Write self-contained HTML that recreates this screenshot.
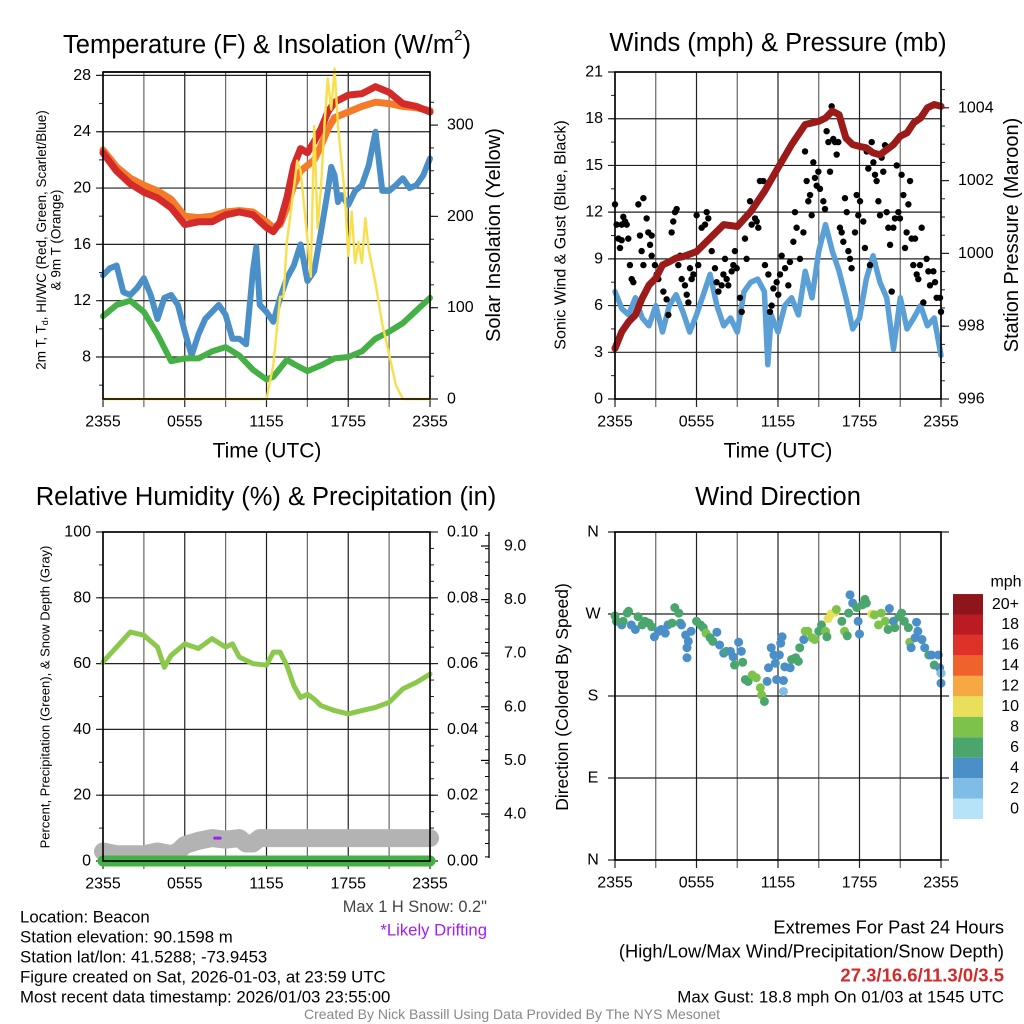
<!DOCTYPE html>
<html><head><meta charset="utf-8"><style>
html,body{margin:0;padding:0;background:#fff;}
svg{display:block;font-family:"Liberation Sans",Arial,sans-serif;}
</style></head><body>
<svg id="chart" width="1024" height="1024" viewBox="0 0 1024 1024" xmlns="http://www.w3.org/2000/svg">
<rect x="0" y="0" width="1024" height="1024" fill="#fff"/>
<g id="layer"></g>
</svg>
<script>
// ---------- Panel 1: temperature & insolation ----------
const tTimes=[0,1,2,3,4,5,6,7,8,9,10,11,12,12.5,13,13.5,14,14.5,15,15.5,16,16.5,17,18,19,20,21,22,23,24];
const temp2m=[22.5,21.2,20.3,19.7,19.3,18.6,17.4,17.6,17.6,18.1,18.3,18.1,17.2,16.9,17.6,19.3,21.6,22.8,22.5,23.3,24.2,25.4,26.1,26.6,26.7,27.2,26.8,26.0,25.8,25.4];
const temp9m=[22.7,21.5,20.7,20.2,19.8,19.2,18.0,17.9,18.0,18.3,18.4,18.3,17.6,17.2,17.4,18.6,20.2,21.2,21.6,22.0,23.0,24.2,25.0,25.4,25.8,26.1,26.0,25.8,25.7,25.5];
const dewTimes=[0,1,2,3,4,5,6,7,8,9,10,11,12,12.5,13,13.5,14,15,16,17,18,19,20,21,22,23,24];
const dewPoint=[10.9,11.7,12.0,11.2,9.6,7.7,7.9,7.9,8.4,8.7,8.1,7.1,6.4,6.6,7.2,7.8,7.5,7.0,7.4,7.9,8.0,8.4,9.3,9.8,10.4,11.3,12.2];
const wcTimes=[0,0.5,1,1.5,2,2.5,3,3.5,4,4.5,5,5.5,6,6.5,7,7.5,8,8.5,9,9.5,10,10.5,11,11.25,11.5,12,12.5,13,13.5,14,14.5,15,15.5,16,16.5,16.75,17,17.25,17.5,18,18.5,19,19.5,20,20.5,21,21.5,22,22.5,23,23.5,24];
const windChill=[13.8,14.3,14.5,12.6,12.4,12.9,13.6,12.4,10.7,12.2,12.4,11.7,9.8,8.1,9.6,10.7,11.2,11.7,11.0,9.3,9.3,8.9,14.1,15.8,11.7,11.2,10.5,12.2,13.6,14.5,16.0,13.4,14.1,16.9,19.8,21.5,20.9,19.0,19.5,18.8,19.8,20.2,21.6,24.0,19.8,19.8,20.2,20.7,20.0,20.2,20.9,22.1];
const solTimes=[0,12,12.5,13,13.25,13.5,14,14.25,14.5,14.75,15,15.25,15.5,15.75,16,16.25,16.5,16.75,17,17.25,17.5,17.75,18,18.25,18.5,18.75,19,19.25,19.5,20,20.5,21,21.5,22,24];
const solar=[0,0,37,112,112,172,231,261,250,213,175,134,299,187,231,299,351,317,362,299,261,224,157,205,149,172,149,198,164,127,82,49,15,0,0];
const p1LeftTicks=[8,12,16,20,24,28];
const p1RightTicks=[0,100,200,300];
// ---------- Panel 2: winds & pressure ----------
const presTimes=[0,0.5,1,1.5,2,2.5,3,3.5,4,4.5,5,6,7,8,9,10,11,12,13,14,15,15.5,16,16.5,17,17.5,18,18.5,19,19.5,20,20.5,21,21.5,22,22.5,23,23.5,24];
const pressure=[997.39,997.85,998.12,998.31,998.77,999.13,999.32,999.68,999.77,999.87,999.91,1000.05,1000.42,1000.79,1000.74,1001.15,1001.70,1002.35,1002.99,1003.54,1003.63,1003.72,1003.91,1003.81,1003.17,1002.99,1002.94,1002.90,1002.76,1002.71,1002.85,1002.99,1003.22,1003.31,1003.59,1003.72,1004.00,1004.09,1004.04];
const windTimes=[0,0.5,1,1.5,2,2.5,3,3.5,4,4.5,5,5.5,6,6.5,7,7.5,8,8.5,9,9.5,10,10.5,11,11.25,11.5,12,12.5,13,13.5,14,14.5,15,15.5,16,16.5,17,17.5,18,18.5,19,19.5,20,20.5,21,21.5,22,22.5,23,23.5,24];
const windSpeed=[6.9,5.8,5.4,6.5,5.2,4.7,6.0,4.3,6.0,6.7,5.6,4.3,5.4,6.7,8.0,6.0,4.7,5.2,4.3,6.9,7.5,7.7,6.9,2.2,5.4,4.3,6.0,6.5,5.4,8.2,6.5,9.5,11.2,9.5,8.2,6.5,4.5,5.2,7.7,9.2,7.5,6.5,3.2,6.5,4.5,5.2,6.0,4.7,5.2,2.8];
const gustTimes=[0,0.12,0.25,0.49,0.61,0.74,0.86,0.37,0.49,0.98,1.1,1.23,1.35,1.72,1.84,1.96,2.09,2.09,2.33,2.45,2.58,2.7,2.7,2.94,3.07,3.19,3.56,3.8,3.93,4.17,4.29,4.42,4.54,4.66,4.79,4.91,5.15,5.28,5.4,5.52,5.64,5.77,6.01,6.13,6.38,6.63,6.75,6.87,6.99,7.12,7.36,7.48,7.61,7.85,7.98,8.1,8.22,8.34,8.59,8.71,8.83,8.96,9.2,9.33,9.57,9.69,9.94,10.06,10.31,10.43,10.55,10.67,10.92,11.04,11.29,11.41,11.53,11.66,11.9,12.02,12.15,12.27,12.52,12.76,12.88,13.13,13.25,13.37,13.62,13.87,13.99,14.11,14.23,14.36,14.48,14.6,14.72,14.85,14.97,15.09,15.34,15.46,15.58,15.71,15.83,15.95,16.07,16.2,16.32,16.44,16.56,16.69,16.81,16.93,17.06,17.18,17.3,17.42,17.67,17.79,17.91,18.04,18.28,18.4,18.53,18.65,18.77,18.9,19.02,19.14,19.26,19.39,19.51,19.63,19.75,19.88,20.0,20.12,20.25,20.37,20.49,20.61,20.74,20.86,20.98,21.1,21.23,21.35,21.47,21.6,21.72,21.84,21.96,22.09,22.21,22.33,22.45,22.58,22.7,22.94,23.07,23.19,23.44,23.56,23.68,23.93,24.0];
const gustSpeed=[12.5,11.2,10.3,11.2,11.7,11.4,11.2,9.7,10.2,10.3,8.6,7.7,7.5,12.5,10.5,9.5,12.9,8.6,11.6,10.7,9.9,9.2,10.5,8.6,8.0,7.7,6.9,6.4,5.4,10.7,11.4,12.0,12.2,8.6,9.2,7.7,7.3,6.7,6.2,8.4,7.7,8.0,11.8,8.6,11.0,11.2,12.0,11.6,10.3,9.5,8.4,7.5,6.9,7.3,8.0,9.0,7.7,7.3,8.2,8.6,9.5,8.4,6.5,5.6,10.3,9.0,12.7,11.2,11.6,11.4,11.0,14.0,14.0,8.6,8.0,5.6,6.0,7.1,7.5,6.7,8.0,9.2,8.4,7.3,8.8,10.1,12.0,11.0,9.0,10.7,15.9,14.0,12.7,13.1,11.8,15.2,14.2,13.7,14.6,13.5,12.7,12.2,17.2,16.5,14.6,18.8,16.7,16.5,15.7,16.5,11.0,10.7,10.1,12.9,12.0,9.5,9.0,8.4,10.7,13.1,11.8,12.7,11.4,9.7,15.9,14.8,8.6,16.5,15.2,14.4,14.0,12.7,11.8,15.5,14.6,16.3,12.0,11.0,9.9,6.9,11.0,11.6,15.0,12.0,11.6,14.4,13.1,9.7,10.7,12.5,14.0,10.3,8.6,10.3,8.0,7.7,8.6,11.0,6.2,9.0,8.2,7.3,8.2,7.5,6.5,6.5,5.6];
const p2LeftTicks=[0,3,6,9,12,15,18,21];
const p2RightTicks=[996,998,1000,1002,1004];
// ---------- Panel 3: RH, precip, snow ----------
const rhTimes=[0,1,2,3,4,4.5,5,6,7,8,9,9.5,10,11,12,12.5,13,13.5,14,14.5,15,15.5,16,17,18,19,20,21,22,23,24];
const relHum=[60.5,65.0,69.6,68.6,65.0,58.9,62.5,66.0,64.6,67.6,65.0,66.0,62.0,60.0,59.5,63.5,63.5,59.4,53.3,49.7,50.7,49.2,47.2,45.7,44.7,45.7,46.7,48.2,52.3,54.3,56.8];
const snowTimes=[0,1,2,3,4,5,5.5,6,7,8,9,10,10.5,11,11.5,12,24];
const snowDepth=[3.3,3.25,3.25,3.25,3.3,3.25,3.3,3.42,3.5,3.55,3.52,3.55,3.45,3.45,3.55,3.55,3.55];
const precipTimes=[0,24];
const precip=[0,0];
const driftTimes=[8.2,8.6];
const driftDepth=[3.55,3.55];
const p3LeftTicks=[0,20,40,60,80,100];
const p3RightTicks=[0,0.02,0.04,0.06,0.08,0.10];
const snowTicks=[4,5,6,7,8,9];
// ---------- Panel 4: wind direction ----------
const dirTimes=[0,0.1,0.5,0.9,1.0,0.6,1.2,1.5,1.7,2.0,2.2,2.5,2.7,2.9,3.2,3.4,3.7,3.9,4.2,4.4,4.7,4.8,4.9,5.2,5.4,5.3,5.3,5.6,6.0,6.3,6.5,6.7,7.0,7.2,7.5,7.7,8.0,8.2,8.5,8.7,8.8,9.1,9.3,9.4,9.6,9.8,10.1,10.4,10.7,10.8,11.0,11.2,11.3,11.5,11.7,11.8,11.9,12.1,12.2,12.3,12.4,12.4,12.5,12.9,13.0,13.3,13.5,13.6,13.9,14.0,14.2,14.5,14.7,15.0,15.2,15.5,15.6,15.7,15.9,16.2,16.3,16.7,16.9,17.1,17.2,17.3,17.5,17.8,17.9,18.0,18.2,18.4,18.5,18.9,19.1,19.4,19.6,19.9,20.1,20.2,20.5,20.6,20.9,21.1,21.3,21.6,21.7,21.8,22.1,22.2,22.3,22.6,22.8,23.1,23.3,23.5,23.8,23.9,24.0,24.0,24.0];
const dirDeg=[268,262,258,271,273,262,258,253,267,258,262,260,256,245,251,253,249,258,260,277,271,260,258,247,240,233,222,251,262,258,255,249,244,240,250,236,227,229,229,223,214,239,229,217,198,196,203,200,189,181,174,196,211,233,225,216,198,225,238,245,197,185,212,211,220,222,218,233,242,251,251,244,242,251,258,251,245,265,270,272,275,262,251,246,271,291,282,277,262,248,280,286,282,270,269,258,271,262,253,276,262,255,267,271,262,255,239,233,244,261,251,242,233,225,225,214,225,211,205,194,205];
const dirSpeed=[6,6,4,6,6,6,4,4,6,6,6,6,6,4,4,4,4,4,6,6,6,6,4,4,4,4,4,4,6,6,6,8,6,6,4,4,4,6,4,4,6,4,4,6,6,6,8,8,8,8,6,4,4,4,4,4,4,4,4,4,4,2,4,4,6,6,6,6,4,8,8,8,8,6,6,8,6,10,10,10,8,6,8,6,6,4,4,6,4,4,6,6,6,10,8,8,8,8,6,4,4,6,6,6,6,6,8,4,4,4,4,4,4,6,4,6,4,4,4,4,2];
const dirTicks=[0,90,180,270,360];
const dirTickLabels=["N","E","S","W","N"];
const cbLabels=["0","2","4","6","8","10","12","14","16","18","20+"];
const cbColors=["#b6e3f8","#7fbde6","#4a8fc7","#4aa66d","#7dc34b","#e8e05a","#f6a843","#f0622b","#dd3129","#bb1c23","#8e1519"];
const xTickLabels=["2355","0555","1155","1755","2355"];

// ---------- helpers ----------
const NS="http://www.w3.org/2000/svg";
const layer=document.getElementById('layer');
function mk(tag,attrs,parent){const e=document.createElementNS(NS,tag);for(const k in attrs)e.setAttribute(k,attrs[k]);(parent||layer).appendChild(e);return e;}
function txt(s,x,y,size,anchor,fill,extra){const e=mk('text',Object.assign({x:x,y:y,'font-size':size,'text-anchor':anchor||'middle',fill:fill||'#000','dominant-baseline':'central'},extra||{}));e.textContent=s;return e;}
function lin(a,b,c,d,stroke,w){return mk('line',{x1:a,y1:b,x2:c,y2:d,stroke:stroke,'stroke-width':w});}
function poly(ts,vs,xf,yf,color,w){let p=ts.map((t,i)=>xf(t).toFixed(1)+','+yf(vs[i]).toFixed(1)).join(' ');return mk('polyline',{points:p,fill:'none',stroke:color,'stroke-width':w,'stroke-linejoin':'round','stroke-linecap':'round'});}

function timeGrid(P){
  for(let h=0;h<=24;h+=3){const x=P.x0+h/24*(P.x1-P.x0);
    const g=lin(x,P.y0,x,P.y1+8,h%6===0?'#222':'#666',1.2);
    
    }
  xTickLabels.forEach((s,i)=>{const t=txt(s,P.x0+i*6/24*(P.x1-P.x0),P.y1+23,16);
    
    });
}
function hGrid(P,ticks,yf,labels,side,labx,minor){
  ticks.forEach((v,i)=>{const y=yf(v);
    if(side==='left'){const g=lin(P.x0-7,y,P.x1,y,'#222',1.2);
      
      }
    else{lin(P.x1,y,P.x1+8,y,'#222',1.2);}
    const t=txt(labels[i],labx,y,16,side==='left'?'end':'start');
    
    });
  if(minor){minor.forEach(v=>{const y=yf(v);if(side==='left')lin(P.x0-4,y,P.x0,y,'#222',1);else lin(P.x1,y,P.x1+4,y,'#222',1);});}
}
function frame(P){const r=mk('rect',{x:P.x0,y:P.y0,width:P.x1-P.x0,height:P.y1-P.y0,fill:'none',stroke:'#000','stroke-width':1.6});
  
  }
function range(a,b,s){const o=[];for(let v=a;v<=b+1e-9;v+=s)o.push(+v.toFixed(3));return o;}

// ---------- Panel 1 ----------
const P1={x0:103,x1:430,y0:72,y1:399};
const x1f=t=>P1.x0+t/24*(P1.x1-P1.x0);
const yT=v=>357-(v-8)*14.08;
const yS=w=>P1.y1-w*0.913;
timeGrid(P1);
hGrid(P1,p1LeftTicks,yT,p1LeftTicks.map(String),'left',P1.x0-12,range(6,28,2));
hGrid(P1,p1RightTicks,yS,p1RightTicks.map(String),'right',P1.x1+17,range(0,325,25));
lin(P1.x0,P1.y0,P1.x1,P1.y0,'#000',1.4);
let e;
e=poly(tTimes,temp9m,x1f,yT,'#f47b2a',7);


e=poly(tTimes,temp2m,x1f,yT,'#d42a2a',7);


e=poly(wcTimes,windChill,x1f,yT,'#4a8fc7',6);


e=poly(dewTimes,dewPoint,x1f,yT,'#45b045',6);


e=poly(solTimes,solar,x1f,yS,'#f9df4b',2.4);


frame(P1);

// ---------- Panel 2 ----------
const P2={x0:615,x1:941,y0:72,y1:399};
const x2f=t=>P2.x0+t/24*(P2.x1-P2.x0);
const yW=v=>P2.y1-v*15.57;
const yP=p=>P2.y1-(p-996)*36.4;
timeGrid(P2);
hGrid(P2,p2LeftTicks,yW,p2LeftTicks.map(String),'left',P2.x0-12,range(0,21,1.5));
hGrid(P2,p2RightTicks,yP,p2RightTicks.map(String),'right',P2.x1+17,range(996,1004.5,0.5));
e=poly(windTimes,windSpeed,x2f,yW,'#5a9fd6',5.5);


gustTimes.forEach((t,i)=>{const c=mk('circle',{cx:x2f(t),cy:yW(gustSpeed[i]),r:3.2,fill:'#000'});
  
  });
e=poly(presTimes,pressure,x2f,yP,'#9b1b1b',7);


frame(P2);

// ---------- Panel 3 ----------
const P3={x0:103,x1:430,y0:532,y1:861};
const x3f=t=>P3.x0+t/24*(P3.x1-P3.x0);
const yRH=v=>P3.y1-v*3.29;
const yPr=v=>P3.y1-v*3290;
const ySn=s=>814-(s-4)*53.6;
timeGrid(P3);
hGrid(P3,p3LeftTicks,yRH,p3LeftTicks.map(String),'left',P3.x0-12,range(0,100,10));
hGrid(P3,p3RightTicks,yPr,p3RightTicks.map(v=>v.toFixed(2)),'right',P3.x1+17,range(0,0.1,0.005));
e=lin(489,532,489,858,'#000',1.3);


snowTicks.forEach(s=>{const y=ySn(s);lin(481,y,489,y,'#000',1.2);
  const t=txt(s.toFixed(1),504,y,16,'start');
  
  });
range(3.2,9.2,0.25).forEach(s=>{const y=ySn(s);if(y>533&&y<858)lin(485,y,489,y,'#000',1);});
e=poly(snowTimes,snowDepth,x3f,ySn,'#b3b3b3',18);


e=poly(driftTimes,driftDepth,x3f,ySn,'#a020f0',3);


e=poly(precipTimes,precip,x3f,yPr,'#45b045',11);


e=poly(rhTimes,relHum,x3f,yRH,'#8cc84b',5);


frame(P3);

// ---------- Panel 4 ----------
const P4={x0:615,x1:941,y0:532,y1:860};
const x4f=t=>P4.x0+t/24*(P4.x1-P4.x0);
const yD=d=>P4.y1-d*(P4.y1-P4.y0)/360;
timeGrid(P4);
dirTicks.forEach((d,i)=>{const y=yD(d);const g=lin(P4.x0-7,y,P4.x1+8,y,'#222',1.2);
  
  
  const t=txt(dirTickLabels[i],P4.x0-22,y,16,'middle');
  
  });
function spdColor(s){return cbColors[Math.min(10,Math.max(0,Math.floor((s+1)/2)))];}
dirTimes.forEach((t,i)=>{const c=mk('circle',{cx:x4f(t),cy:yD(dirDeg[i]),r:4.5,fill:spdColor(dirSpeed[i])});
  
  });
frame(P4);
cbColors.forEach((c,i)=>{const y=819-(i+1)*20.45;const r=mk('rect',{x:953,y:y,width:30,height:20.45,fill:c});
  
  
  const t=txt(cbLabels[i],1019,y+10.2,16,'end');
  
  });
e=txt('mph',1006,582,16,'middle');



// ---------- titles & labels ----------
function named(el,n){return el;}
let t1=txt('',267,45,25.5);named(t1,'temperature-title');
t1.innerHTML='Temperature (F) &amp; Insolation (W/m<tspan font-size="15" dy="-10">2</tspan><tspan dy="10">)</tspan>';
named(txt('Winds (mph) & Pressure (mb)',778,43,25.5),'winds-title');
named(txt('Relative Humidity (%) & Precipitation (in)',266,497,25.5),'humidity-title');
named(txt('Wind Direction',778,497,25.5),'wind-direction-title');
named(txt('Time (UTC)',267,451,21),'x-axis-title-temperature');
named(txt('Time (UTC)',778,451,21),'x-axis-title-winds');
let yl=txt('',0,0,13.5,'middle','#000',{transform:'translate(41,240) rotate(-90)'});named(yl,'temperature-y-title-line1');
yl.innerHTML='2m T, T<tspan font-size="9" dy="4">d</tspan><tspan dy="-4">, HI/WC (Red, Green, Scarlet/Blue)</tspan>';
named(txt('& 9m T (Orange)',0,0,13.5,'middle','#000',{transform:'translate(56,240) rotate(-90)'}),'temperature-y-title-line2');
named(txt('Solar Insolation (Yellow)',0,0,20,'middle','#000',{transform:'translate(494,235) rotate(-90)'}),'solar-y-title');
named(txt('Sonic Wind & Gust (Blue, Black)',0,0,16,'middle','#000',{transform:'translate(561,235) rotate(-90)'}),'wind-y-title');
named(txt('Station Pressure (Maroon)',0,0,20,'middle','#000',{transform:'translate(1012,235) rotate(-90)'}),'pressure-y-title');
named(txt('Percent, Precipitation (Green), & Snow Depth (Gray)',0,0,13,'middle','#000',{transform:'translate(45,697) rotate(-90)'}),'humidity-y-title');
named(txt('Direction (Colored By Speed)',0,0,17.5,'middle','#000',{transform:'translate(562,697) rotate(-90)'}),'direction-y-title');
named(txt('Max 1 H Snow: 0.2"',487,907,16.4,'end','#444'),'max-snow-note');
named(txt('*Likely Drifting',487,930,16.7,'end','#a020f0'),'drifting-note');
const info=['Location: Beacon','Station elevation: 90.1598 m','Station lat/lon: 41.5288; -73.9453','Figure created on Sat, 2026-01-03, at 23:59 UTC','Most recent data timestamp: 2026/01/03 23:55:00'];
info.forEach((s,i)=>named(txt(s,20,917+i*20,16.8,'start'),'station-info-line'));
named(txt('Extremes For Past 24 Hours',1004,927,18.3,'end'),'extremes-title');
named(txt('(High/Low/Max Wind/Precipitation/Snow Depth)',1004,951,18.3,'end'),'extremes-legend');
named(txt('27.3/16.6/11.3/0/3.5',1004,975,18.5,'end','#d42a2a',{'font-weight':'bold'}),'extremes-values');
named(txt('Max Gust: 18.8 mph On 01/03 at 1545 UTC',1004,997,16.9,'end'),'max-gust-note');
named(txt('Created By Nick Bassill Using Data Provided By The NYS Mesonet',512,1014,14,'middle','#888'),'credits');
</script>
</body></html>
